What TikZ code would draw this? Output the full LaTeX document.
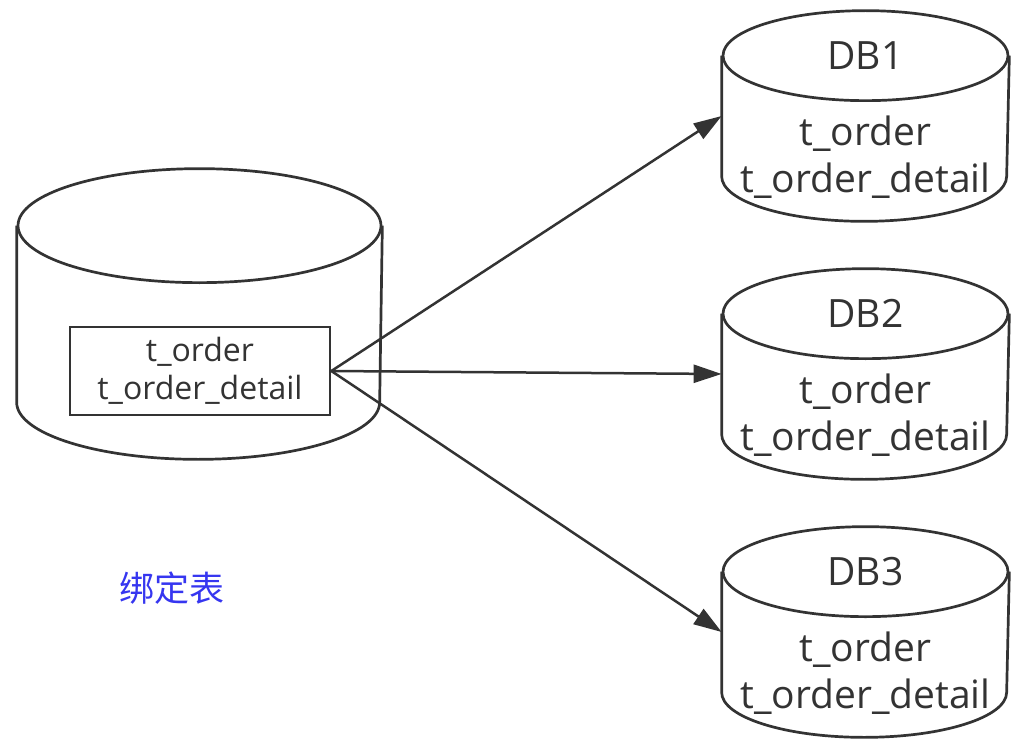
\documentclass[tikz,border=0pt]{standalone}
\usepackage{fontspec}
\setmainfont{Open Sans}
\newfontfamily\cjk{Noto Sans CJK SC}
\usepackage{xcolor}
\usepackage{tikz}
\usetikzlibrary{positioning}
\usetikzlibrary{arrows.meta}
\definecolor{linegray}{HTML}{333333}
\definecolor{bindblue}{HTML}{3636F0}
\tikzstyle{body} = [rectangle, inner sep=0pt, draw=none]
\tikzstyle{tables} = [rectangle, draw=linegray, line width=2.7pt, minimum width=260pt, minimum height=88pt, align=center, text=black!80, font=\fontsize{32}{38}\selectfont]
\tikzstyle{dbtext} = [align=center, text=black!80, font=\fontsize{39}{47}\selectfont]
\tikzstyle{arrow} = [line width=2.5pt, draw=linegray, -{Triangle[length=28pt,width=18pt]}]

\begin{document}
\begin{tikzpicture}[x=1pt,y=-1pt, line width=2.7pt, draw=linegray]
\useasboundingbox (0,0) rectangle (1023,749);
% logic table
\node[body, minimum width=363pt, minimum height=174pt] (src) at (199.5,314) {};
\draw[linegray] (src.north west) -- (src.south west) arc[start angle=180, end angle=0, x radius=181.5, y radius=57] -- (src.north east);
\draw[linegray] (src.north) ellipse[x radius=181.5, y radius=57];
\node[tables] (tab) at (200,371) {t\_order\\t\_order\_detail};
\node[text=bindblue, font=\cjk\fontsize{35}{40}\selectfont] (bind) at (172,588) {绑定表};
% DB1
\node[body, minimum width=285pt, minimum height=118pt] (db1) at (865.5,116) {};
\draw[linegray] (db1.north west) -- (db1.south west) arc[start angle=180, end angle=0, x radius=142.5, y radius=45] -- (db1.north east);
\draw[linegray] (db1.north) ellipse[x radius=142.5, y radius=45];
\node[dbtext] (db1name) at (db1.north) {DB1};
\node[dbtext] (db1tab) at (865.5,157) {t\_order\\t\_order\_detail};
% DB2
\node[body, minimum width=285pt, minimum height=118pt] (db2) at (865.5,374) {};
\draw[linegray] (db2.north west) -- (db2.south west) arc[start angle=180, end angle=0, x radius=142.5, y radius=45] -- (db2.north east);
\draw[linegray] (db2.north) ellipse[x radius=142.5, y radius=45];
\node[dbtext] (db2name) at (db2.north) {DB2};
\node[dbtext] (db2tab) at (865.5,415) {t\_order\\t\_order\_detail};
% DB3
\node[body, minimum width=285pt, minimum height=118pt] (db3) at (865.5,632) {};
\draw[linegray] (db3.north west) -- (db3.south west) arc[start angle=180, end angle=0, x radius=142.5, y radius=45] -- (db3.north east);
\draw[linegray] (db3.north) ellipse[x radius=142.5, y radius=45];
\node[dbtext] (db3name) at (db3.north) {DB3};
\node[dbtext] (db3tab) at (865.5,673) {t\_order\\t\_order\_detail};
% arrows
\draw[arrow] (tab.east) -- (db1.west);
\draw[arrow] (tab.east) -- (db2.west);
\draw[arrow] (tab.east) -- (db3.west);
\end{tikzpicture}
\end{document}
